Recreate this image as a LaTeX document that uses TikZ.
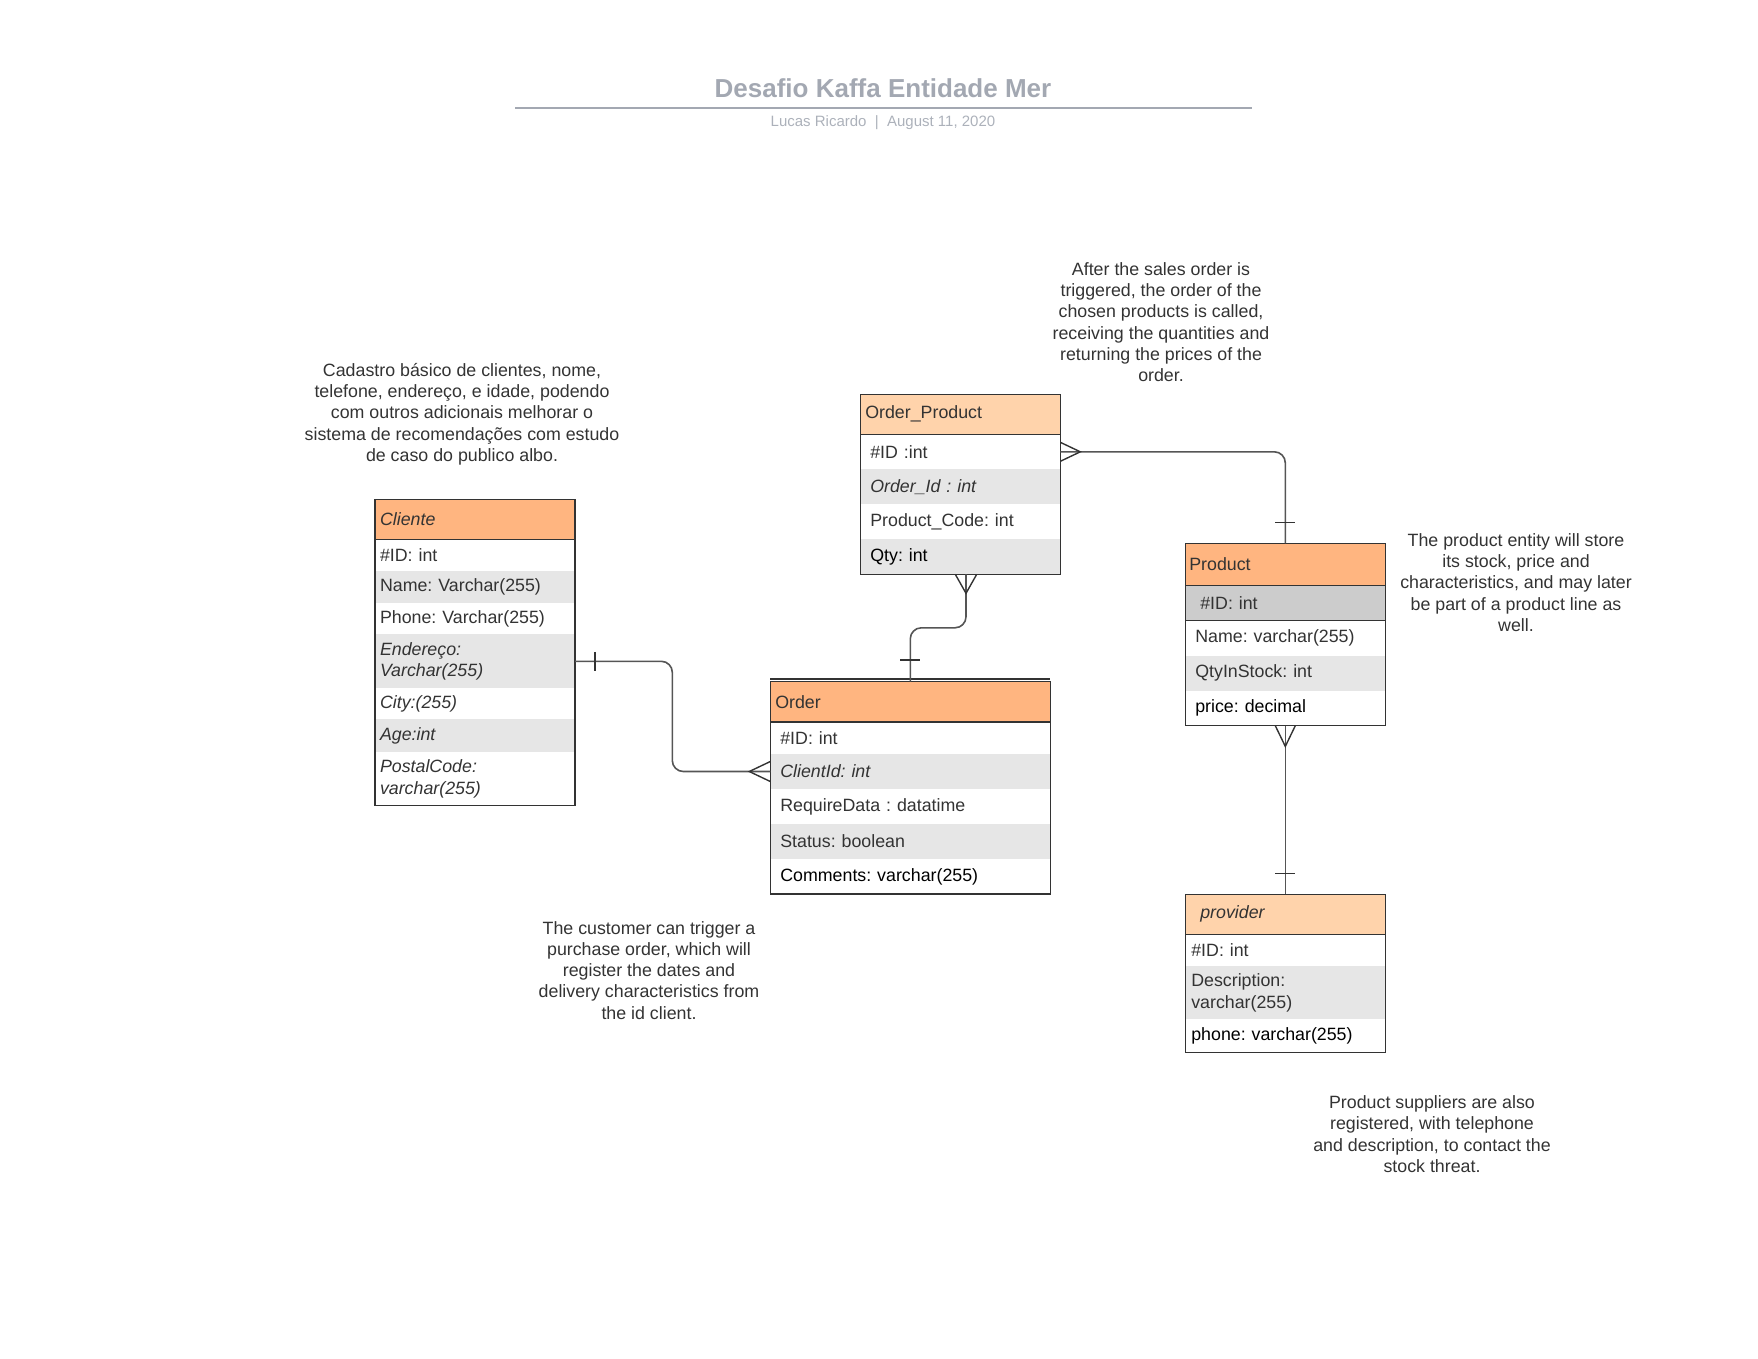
\documentclass[tikz,border=0pt]{standalone}
\usepackage{fontspec}
\setmainfont{Liberation Sans}
\usetikzlibrary{calc}
\frenchspacing
\definecolor{hdr}{HTML}{FFB580}
\definecolor{hdrl}{HTML}{FFD3AB}
\definecolor{rowg}{HTML}{E6E6E6}
\definecolor{keyg}{HTML}{CCCCCC}
\definecolor{txt}{HTML}{333333}
\definecolor{ttl}{HTML}{A3A8B2}
\definecolor{bord}{HTML}{333333}
\definecolor{lnk}{HTML}{555555}
\begin{document}
\begin{tikzpicture}[x=1pt,y=-1pt,
  cell/.style={anchor=north west, inner ysep=0pt, outer sep=0pt, text=txt,
    font=\fontsize{17.8}{21.3}\selectfont\frenchspacing, align=left},
  gr/.style={fill=rowg},
  it/.style={font=\fontsize{17.8}{21.3}\selectfont\frenchspacing\itshape},
  blk/.style={text=black},
  cli/.style={cell, text width=190, inner xsep=5},
  opr/.style={cell, text width=180, inner xsep=10},
  oph/.style={cell, text width=190, inner xsep=5},
  ordr/.style={cell, text width=260, inner xsep=10},
  ordh/.style={cell, text width=270, inner xsep=5},
  prodr/.style={cell, text width=180, inner xsep=10},
  prov/.style={cell, text width=188, inner xsep=6},
  box/.style={draw=bord, line width=1.3},
  sep/.style={draw=bord, line width=1.3},
  conn/.style={draw=lnk, line width=1.6, rounded corners=11},
  foot/.style={draw=bord, line width=1.4},
  note/.style={text=txt, font=\fontsize{17.8}{21.3}\selectfont\frenchspacing, align=center, inner sep=0pt}
]
\useasboundingbox (0,0) rectangle (1758,1358);

% title
\node[text=ttl, font=\fontsize{26}{30}\selectfont\bfseries] (title) at (883,88.5) {Desafio Kaffa Entidade Mer};
\coordinate (tl) at (515,107.6);
\coordinate (tr) at (1252,107.6);
\draw[ttl, line width=2] (tl) -- (tr);
\node[text=ttl!90!white, font=\fontsize{15}{18}\selectfont] (sub) at (883,122.5) {Lucas Ricardo~~|~~August 11, 2020};

% ---------- Cliente ----------
\node[cli, fill=hdr, minimum height=40, it] (cli-h) at (375,499.3) {Cliente};
\node[cli, minimum height=32] (cli-1) at (375,539.3) {\#ID: int};
\node[cli, gr, minimum height=32] (cli-2) at (375,571.3) {Name: Varchar(255)};
\node[cli, minimum height=31] (cli-3) at (375,603.3) {Phone: Varchar(255)};
\node[cli, gr, minimum height=54, it] (cli-4) at (375,634.3) {Endereço:\\Varchar(255)};
\node[cli, minimum height=31, it] (cli-5) at (375,688.3) {City:(255)};
\node[cli, gr, minimum height=33, it] (cli-6) at (375,719.3) {Age:int};
\node[cli, minimum height=53, it] (cli-7) at (375,752.3) {PostalCode:\\varchar(255)};
\draw[box] (cli-h.north west) rectangle (cli-7.south east);
\draw[sep] (cli-h.south west) -- (cli-h.south east);

% ---------- Order_Product ----------
\node[oph, fill=hdrl, minimum height=40] (op-h) at (860.3,394.3) {Order\_Product};
\node[opr, minimum height=35] (op-1) at (860.3,434.3) {\#ID :int};
\node[opr, gr, minimum height=35, it] (op-2) at (860.3,469.3) {Order\_Id : int};
\node[opr, minimum height=35] (op-3) at (860.3,504.3) {Product\_Code: int};
\node[opr, gr, minimum height=35, blk] (op-4) at (860.3,539.3) {Qty: int};
\draw[box] (op-h.north west) rectangle (op-4.south east);
\draw[sep] (op-h.south west) -- (op-h.south east);

% ---------- Order ----------
\node[ordh, fill=hdr, minimum height=40.5] (ord-h) at (770.3,681.5) {Order};
\node[ordr, minimum height=32] (ord-1) at (770.3,722) {\#ID: int};
\node[ordr, gr, minimum height=35, it] (ord-2) at (770.3,754) {ClientId: int};
\node[ordr, minimum height=35] (ord-3) at (770.3,789) {RequireData : datatime};
\node[ordr, gr, minimum height=35] (ord-4) at (770.3,824) {Status: boolean};
\node[ordr, minimum height=35, blk] (ord-5) at (770.3,859) {Comments: varchar(255)};
\draw[box] (ord-h.north west) rectangle (ord-5.south east);
\draw[sep] (ord-h.south west) -- (ord-h.south east);
\draw[sep] ([yshift=2.4pt]ord-h.north west) -- ([yshift=2.4pt]ord-h.north east);

% ---------- Product ----------
\node[cell, text width=192, inner xsep=4, fill=hdr, minimum height=42.4] (prod-h) at (1185.3,543.3) {Product};
\node[cell, text width=170, inner xsep=15, fill=keyg, minimum height=35] (prod-1) at (1185.3,585.7) {\#ID: int};
\node[prodr, minimum height=35] (prod-2) at (1185.3,620.7) {Name: varchar(255)};
\node[prodr, gr, minimum height=35] (prod-3) at (1185.3,655.7) {QtyInStock: int};
\node[prodr, minimum height=35, blk] (prod-4) at (1185.3,690.7) {price: decimal};
\draw[box] (prod-h.north west) rectangle (prod-4.south east);
\draw[sep] (prod-h.south west) -- (prod-h.south east);
\draw[sep] (prod-1.south west) -- (prod-1.south east);

% ---------- provider ----------
\node[cell, text width=170, inner xsep=15, fill=hdrl, minimum height=40, it] (prov-h) at (1185.3,894.3) {provider};
\node[prov, minimum height=32] (prov-1) at (1185.3,934.3) {\#ID: int};
\node[prov, gr, minimum height=53] (prov-2) at (1185.3,966.3) {Description:\\varchar(255)};
\node[prov, minimum height=33, blk] (prov-3) at (1185.3,1019.3) {phone: varchar(255)};
\draw[box] (prov-h.north west) rectangle (prov-3.south east);
\draw[sep] (prov-h.south west) -- (prov-h.south east);

% ---------- connectors ----------
% Cliente -- Order
\coordinate (b1) at (672.3,700);
\draw[conn] (cli-4.east) -- (cli-4.east -| b1) -- (b1 |- ord-2.west) -- (ord-2.west);
\draw[foot] ($(cli-4.east)+(20,-9.5)$) -- ($(cli-4.east)+(20,9.5)$);
\draw[foot] ($(ord-2.west)+(0,-10)$) -- ($(ord-2.west)+(-21,0)$) -- ($(ord-2.west)+(0,10)$);

% Order_Product -- Product
\draw[conn] (op-1.east) -| (prod-h.north);
\draw[foot] ($(op-1.east)+(0,-9.5)$) -- ($(op-1.east)+(20,0)$) -- ($(op-1.east)+(0,9.5)$);
\draw[foot] ($(prod-h.north)+(-10,-21)$) -- ($(prod-h.north)+(10,-21)$);

% Order_Product -- Order
\coordinate (opb) at ([xshift=5.7pt]op-4.south);
\draw[conn] (opb) -- ++(0,53.5) -| (ord-h.north);
\draw[foot] ($(opb)+(-10.7,0)$) -- ($(opb)+(0,19)$) -- ($(opb)+(10.7,0)$);
\draw[foot] ($(ord-h.north)+(-10,-21.5)$) -- ($(ord-h.north)+(10,-21.5)$);

% Product -- provider
\draw[conn] (prod-4.south) -- (prov-h.north);
\draw[foot] ($(prod-4.south)+(-10,0)$) -- ($(prod-4.south)+(0,20.7)$) -- ($(prod-4.south)+(10,0)$);
\draw[foot] ($(prov-h.north)+(-10,-21)$) -- ($(prov-h.north)+(10,-21)$);

% ---------- notes ----------
\node[note] (n-cli) at (462,414) {Cadastro básico de clientes, nome,\\telefone, endereço, e idade, podendo\\com outros adicionais melhorar o\\sistema de recomendações com estudo\\de caso do publico albo.};
\node[note] (n-op) at (1161,322) {After the sales order is\\triggered, the order of the\\chosen products is called,\\receiving the quantities and\\returning the prices of the\\order.};
\node[note] (n-prod) at (1516,582.5) {The product entity will store\\its stock, price and\\characteristics, and may later\\be part of a product line as\\well.};
\node[note] (n-ord) at (649,970.3) {The customer can trigger a\\purchase order, which will\\register the dates and\\delivery characteristics from\\the id client.};
\node[note] (n-prov) at (1432,1134) {Product suppliers are also\\registered, with telephone\\and description, to contact the\\stock threat.};
\end{tikzpicture}
\end{document}
